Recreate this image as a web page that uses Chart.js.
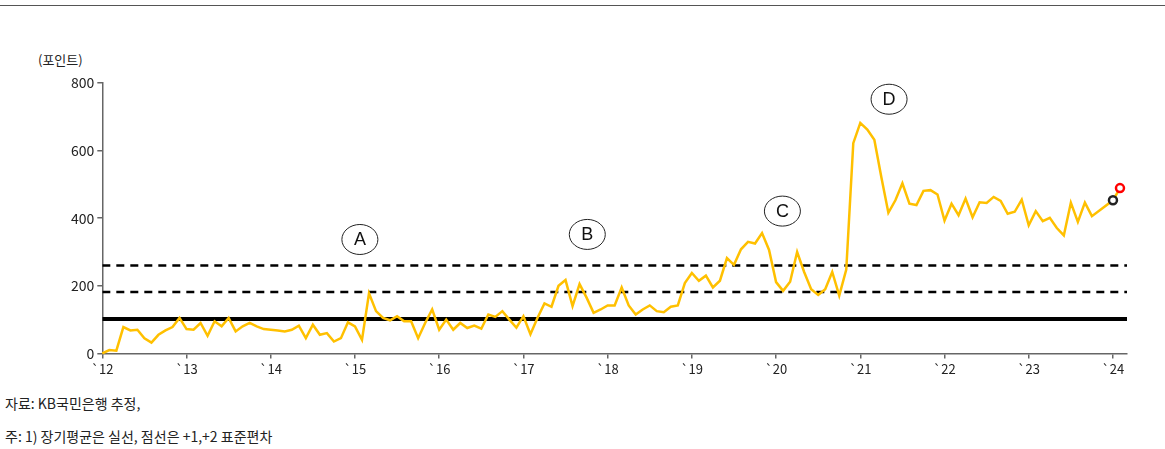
<!DOCTYPE html>
<html><head><meta charset="utf-8">
<script src="https://cdn.jsdelivr.net/npm/chart.js@4/dist/chart.umd.min.js"></script>
<style>
body{margin:0;background:#fff;font-family:"Noto Sans CJK KR",sans-serif;}
#wrap{position:relative;width:1165px;height:449px;}
#topline{position:absolute;left:0;top:5px;width:1165px;height:1px;background:#555;}
.t{position:absolute;font-size:14px;color:#222;}
</style></head><body>
<div id="wrap">
<div id="topline"></div>
<div class="t" style="left:38px;top:50px;font-size:13px">(포인트)</div>
<div class="t" style="left:5px;top:393px">자료: KB국민은행 추정,</div>
<div class="t" style="left:5px;top:426px">주: 1) 장기평균은 실선, 점선은 +1,+2 표준편차</div>
<canvas id="c" width="1165" height="449" style="position:absolute;left:0;top:0"></canvas>
</div>
<script>
const yearLabels = ["`12","`13","`14","`15","`16","`17","`18","`19","`20","`21","`22","`23","`24"];
const index2012_2023 = [
 0,10,8,78,68,70,45,32,55,68,78,105,
 72,70,90,52,95,80,105,65,80,90,80,72,
 70,68,65,70,82,45,85,55,60,35,45,92,
 80,40,178,125,105,98,110,95,95,45,90,130,
 70,100,70,90,75,82,73,115,108,125,100,76,
 110,57,105,148,138,200,217,140,205,165,120,130,
 142,142,195,142,115,130,142,125,122,138,142,208,
 238,215,230,195,215,282,262,308,330,325,356,306,
 211,185,212,300,241,190,173,190,241,171,248,622,
 682,662,632,521,416,453,503,443,439,481,483,470,
 393,443,409,458,403,447,445,463,451,413,419,455,
 379,421,391,401,371,349,446,389,446,406
];
const prevPoint = 453;   // black marker
const latestPoint = 489; // red marker
const longTermAvg = 102;
const sd1 = 182;
const sd2 = 260;
const markers = [{t:"A",x:36.7,y:337},{t:"B",x:69.1,y:352},{t:"C",x:96.9,y:421},{t:"D",x:112.1,y:752}];

const lineData = index2012_2023.map((v,i)=>({x:i,y:v}));
lineData.push({x:144,y:prevPoint});
lineData.push({x:145,y:latestPoint});
const hline = v=>[{x:0,y:v},{x:146,y:v}];

const circles = {id:'circ',afterDatasetsDraw(ch){
  const c=ch.ctx,xs=ch.scales.x,ys=ch.scales.y;
  c.save();
  markers.forEach(m=>{
    const px=xs.getPixelForValue(m.x),py=ys.getPixelForValue(m.y);
    c.beginPath();c.ellipse(px,py,18,15,0,0,Math.PI*2);
    c.fillStyle='#fff';c.fill();c.strokeStyle='#222';c.lineWidth=1;c.stroke();
    c.fillStyle='#111';c.font='18px "Liberation Sans"';c.textAlign='center';c.textBaseline='middle';
    c.fillText(m.t,px,py+1);
  });
  c.restore();
}};

new Chart(document.getElementById('c'),{
  type:'line',
  data:{datasets:[
    {data:lineData,borderColor:'#FFC000',borderWidth:2.5,tension:0,clip:false,
     pointRadius:ctx=>ctx.dataIndex>=lineData.length-2?4:0,
     pointBorderWidth:2.5,pointBackgroundColor:'#fff',
     pointBorderColor:ctx=>ctx.dataIndex===lineData.length-1?'#FF0000':'#222',order:0},
    {data:hline(longTermAvg),borderColor:'#000',borderWidth:4,pointRadius:0,order:1},
    {data:hline(sd1),borderColor:'#000',borderWidth:2.5,borderDash:[8,6],pointRadius:0,order:1},
    {data:hline(sd2),borderColor:'#000',borderWidth:2.5,borderDash:[8,6],pointRadius:0,order:1}
  ]},
  options:{responsive:false,animation:false,
    layout:{padding:{left:68,right:38,top:83,bottom:69}},
    plugins:{legend:{display:false},tooltip:{enabled:false}},
    scales:{
      x:{type:'linear',min:0,max:146,
        grid:{display:true,drawOnChartArea:false,drawTicks:true,tickLength:5,color:'#666',lineWidth:1.5},border:{color:'#666',width:1.5},
        ticks:{stepSize:12,autoSkip:false,maxRotation:0,color:'#222',font:{size:13,family:'"Noto Sans CJK KR"'},
          callback:v=>v%12===0?yearLabels[v/12]:''},
        afterBuildTicks:a=>{a.ticks=yearLabels.map((_,i)=>({value:i*12}));}},
      y:{min:0,max:800,
        grid:{display:true,drawOnChartArea:false,drawTicks:true,tickLength:5,color:'#666',lineWidth:1.5},border:{color:'#666',width:1.5},
        ticks:{stepSize:200,color:'#222',font:{size:14,family:'"Noto Sans CJK KR"'}}}
    }},
  plugins:[circles]
});
</script></body></html>
